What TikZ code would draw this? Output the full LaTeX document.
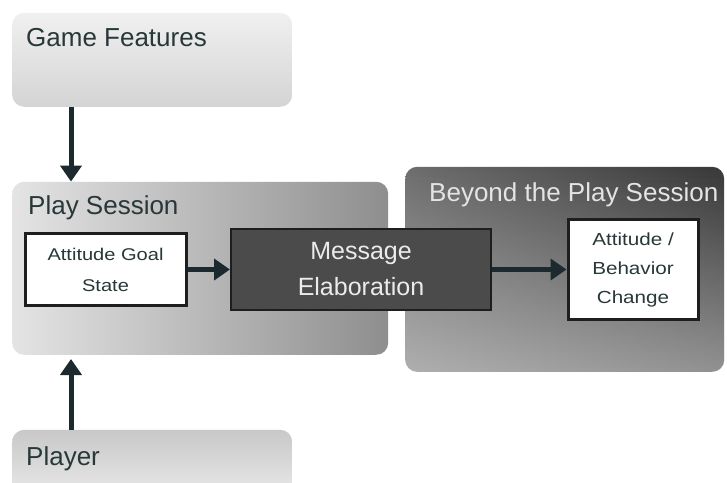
\documentclass[tikz,border=0pt]{standalone}
\usepackage{fontspec}
\setmainfont{Liberation Sans}
\newfontfamily\widefont[FakeStretch=1.18]{Liberation Sans}
\usetikzlibrary{arrows.meta,fadings}
\definecolor{txtc}{HTML}{283838}
\definecolor{arrc}{HTML}{1C2A30}
\definecolor{edgec}{HTML}{1E1E1E}
\definecolor{msgfill}{HTML}{4B4B4B}
\tikzset{
  x=1pt, y=1pt,
  bigbox/.style={rectangle, rounded corners=12pt, inner sep=0pt, anchor=south west},
  whitebox/.style={rectangle, draw=edgec, line width=3pt, fill=white, inner sep=0pt,
    align=center, text=txtc},
  title/.style={anchor=base west, inner sep=0pt, font=\fontsize{26}{30}\selectfont},
  arr/.style={draw=arrc, line width=5pt, -{Triangle[length=16pt,width=21pt]}},
}
\begin{document}
\begin{tikzpicture}
\useasboundingbox (0,0) rectangle (727,482);
% Game Features
\node[bigbox, top color={rgb,255:red,240;green,240;blue,240}, bottom color={rgb,255:red,212;green,212;blue,212},
  minimum width=280pt, minimum height=94pt] (gf) at (12,375) {};
\node[title, text=txtc] (gft) at (26,435) {Game Features};
% Play Session
\node[bigbox, left color={rgb,255:red,228;green,228;blue,228}, right color={rgb,255:red,142;green,142;blue,142},
  minimum width=376pt, minimum height=173pt] (ps) at (12,127) {};
\node[title, text=txtc] (pst) at (28,267) {Play Session};
% Beyond the Play Session
\node[bigbox, left color={rgb,255:red,110;green,110;blue,110}, right color={rgb,255:red,56;green,56;blue,56},
  minimum width=319pt, minimum height=205pt] (bp) at (405,110) {};
\fill[white, opacity=0.45, path fading=north, rounded corners=12pt] (bp.south west) rectangle (bp.north east);
\node[title, text={rgb,255:red,228;green,228;blue,228}] (bpt) at (429,280) {Beyond the Play Session};
% Player
\node[bigbox, top color={rgb,255:red,200;green,200;blue,200}, bottom color={rgb,255:red,232;green,232;blue,232},
  minimum width=280pt, minimum height=65pt] (pl) at (12,-13) {};
\node[title, text=txtc] (plt) at (26,17) {Player};
% inner boxes
\node[rectangle, draw=edgec, line width=2pt, fill=msgfill, text={rgb,255:red,235;green,235;blue,235},
  align=center, inner sep=0pt, minimum width=260pt, minimum height=81pt,
  font=\fontsize{25}{36}\selectfont] (me) at (361,212.5) {Message\\Elaboration};
\node[whitebox, minimum width=161pt, minimum height=71pt,
  font=\widefont\fontsize{17}{31}\selectfont] (ags) at (105.5,212.5) {Attitude Goal\\State};
\node[whitebox, minimum width=130pt, minimum height=99pt,
  font=\widefont\fontsize{17.5}{29}\selectfont] (ab) at (633,212.5) {Attitude /\\Behavior\\Change};
% arrows
\coordinate (ax) at (71,0);
\draw[arr] (gf.south -| ax) -- (ps.north -| ax);
\draw[arr, shorten >=4pt] (pl.north -| ax) -- (ps.south -| ax);
\draw[arr] (ags.east) -- (me.west);
\draw[arr] (me.east) -- (ab.west);
\end{tikzpicture}
\end{document}
